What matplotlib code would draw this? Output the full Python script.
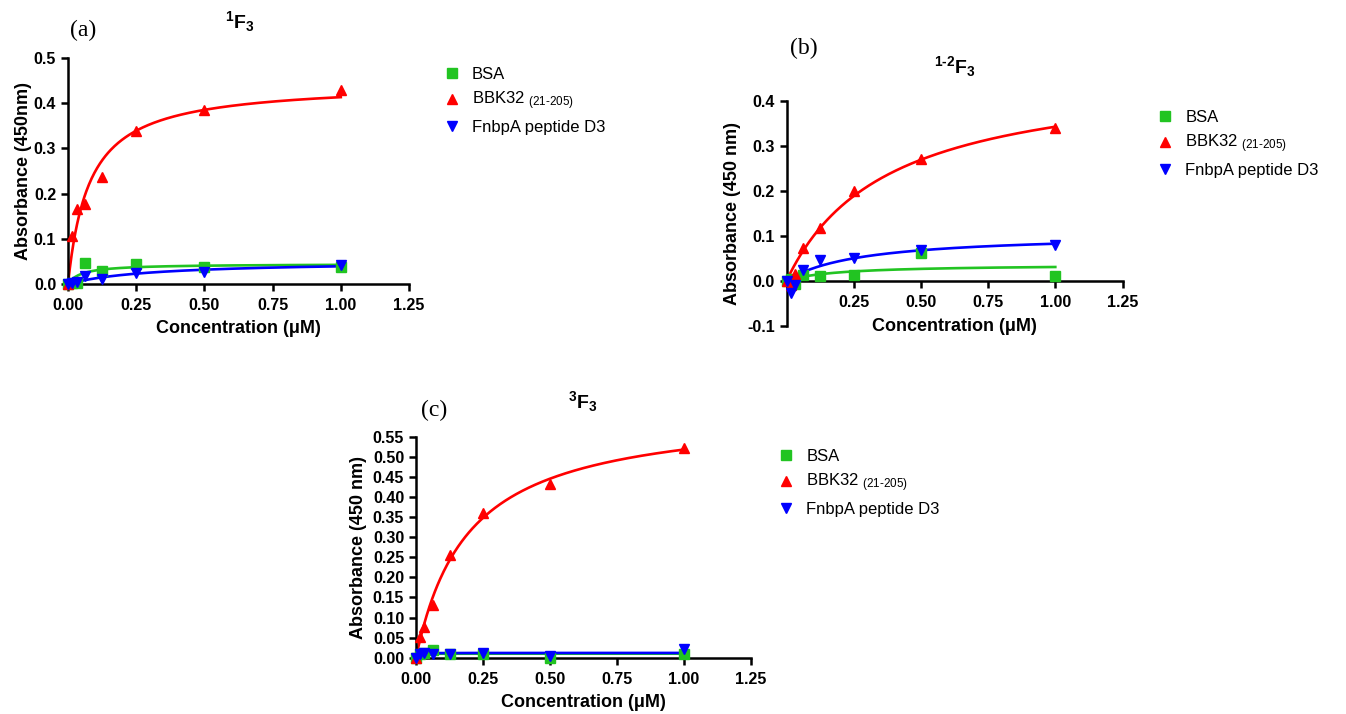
import matplotlib
matplotlib.use('Agg')
import matplotlib.pyplot as plt
from matplotlib.lines import Line2D
import numpy as np

plt.rcParams['font.family'] = ['Liberation Sans', 'DejaVu Sans']
plt.rcParams['mathtext.fontset'] = 'custom'
plt.rcParams['mathtext.rm'] = 'Liberation Sans'
plt.rcParams['mathtext.bf'] = 'Liberation Sans:bold'
plt.rcParams['mathtext.it'] = 'Liberation Sans:italic'

# concentrations (uM)
conc = [0, 0.0156, 0.03125, 0.0625, 0.125, 0.25, 0.5, 1.0]

# panel (a) 1F3
a_bsa = [0.0, 0.003, 0.002, 0.047, 0.028, 0.044, 0.037, 0.038]
a_bbk = [0.0, 0.106, 0.166, 0.178, 0.237, 0.338, 0.386, 0.429]
a_fnb = [0.0, 0.002, 0.004, 0.017, 0.011, 0.024, 0.027, 0.042]

# panel (b) 1-2F3
b_bsa = [0.0, 0.004, -0.007, 0.012, 0.010, 0.012, 0.061, 0.010]
b_bbk = [0.0, -0.010, 0.015, 0.072, 0.117, 0.200, 0.270, 0.339]
b_fnb = [0.0, -0.028, -0.010, 0.025, 0.046, 0.051, 0.068, 0.080]

# panel (c) 3F3
c_bsa = [0.0, 0.010, 0.012, 0.019, 0.009, 0.009, 0.0, 0.010]
c_bbk = [0.0, 0.052, 0.077, 0.131, 0.256, 0.361, 0.432, 0.521]
c_fnb = [0.0, 0.010, 0.012, 0.010, 0.010, 0.011, 0.005, 0.021]

series_names = ['BSA', 'BBK32 $_{\\mathregular{(21\u2010205)}}$', 'FnbpA peptide D3']
colors = ['#22c422', '#ff0000', '#0000ff']
markers = ['s', '^', 'v']


def fit_binding(x, y):
    # one-site binding fit y = Bmax*x/(Kd+x), simple grid search on Kd
    x = np.asarray(x, float)
    y = np.asarray(y, float)
    best = None
    for kd in np.logspace(-3, 1, 3000):
        f = x / (kd + x)
        bmax = np.sum(f * y) / np.sum(f * f)
        sse = np.sum((y - bmax * f) ** 2)
        if best is None or sse < best[0]:
            best = (sse, kd, bmax)
    return best[1], best[2]


fig = plt.figure(figsize=(13.46, 7.14), dpi=100)
W, H = 1346.0, 714.0


def make_axes(left, right, top, bottom):
    return fig.add_axes([left / W, 1 - bottom / H, (right - left) / W, (bottom - top) / H])


def draw_panel(ax, data, ymin, ymax, ystep, yfmt):
    xs = np.linspace(0, 1.0, 300)
    for (vals, c, m) in zip(data, colors, markers):
        kd, bmax = fit_binding(conc, vals)
        ax.plot(xs, bmax * xs / (kd + xs), color=c, lw=1.9, zorder=2, clip_on=False)
        ax.plot(conc, vals, linestyle='none', marker=m, color=c, markersize=6.8,
                zorder=3, clip_on=False)
    ax.set_xlim(0, 1.25)
    ax.set_ylim(ymin, ymax)
    ax.set_xticks([0, 0.25, 0.5, 0.75, 1.0, 1.25])
    ax.set_xticklabels(['0.00', '0.25', '0.50', '0.75', '1.00', '1.25'])
    yt = np.round(np.arange(ymin, ymax + ystep / 2, ystep), 3)
    ax.set_yticks(yt)
    ax.set_yticklabels([yfmt.format(v) for v in yt])
    for s in ['top', 'right']:
        ax.spines[s].set_visible(False)
    for s in ['left', 'bottom']:
        ax.spines[s].set_linewidth(1.8)
    ax.tick_params(direction='out', length=5, width=1.8, labelsize=11.5)
    ax.tick_params(axis='x', pad=5)
    for lab in ax.get_xticklabels() + ax.get_yticklabels():
        lab.set_fontweight('bold')
    ax.set_xlabel('Concentration (\u03bcM)', fontsize=13, fontweight='bold', labelpad=5)


def add_legend(ax, x, y):
    handles = [Line2D([], [], linestyle='none', marker=m, color=c, markersize=6.5)
               for c, m in zip(colors, markers)]
    ax.legend(handles, series_names, loc='center left', bbox_to_anchor=(x / W, 1 - y / H),
              bbox_transform=fig.transFigure, frameon=False, fontsize=12,
              handlelength=1.0, handletextpad=0.7, borderpad=0, borderaxespad=0,
              labelspacing=0.45)


# (a)
ax_a = make_axes(68, 409, 58, 284)
draw_panel(ax_a, [a_bsa, a_bbk, a_fnb], 0.0, 0.5, 0.1, '{:.1f}')
ax_a.set_ylabel('Absorbance (450nm)', fontsize=13, fontweight='bold', labelpad=1)
add_legend(ax_a, 443.5, 101)
fig.text(83 / W, 1 - 30 / H, '(a)', family='Liberation Serif', fontsize=17, ha='center', va='center')
fig.text(240 / W, 1 - 22 / H, r'$^{\mathbf{1}}\mathbf{F}_{\mathbf{3}}$', fontsize=14, ha='center', va='center')

# (b)
ax_b = make_axes(786.5, 1122.5, 101, 325.7)
draw_panel(ax_b, [b_bsa, b_bbk, b_fnb], -0.1, 0.4, 0.1, '{:.1f}')
ax_b.spines['bottom'].set_position(('data', 0))
ax_b.set_xticklabels(['', '0.25', '0.50', '0.75', '1.00', '1.25'])
for lab in ax_b.get_xticklabels():
    lab.set_fontweight('bold')
ax_b.xaxis.set_label_coords(0.5, 0.035)
ax_b.set_ylabel('Absorbance (450 nm)', fontsize=13, fontweight='bold')
add_legend(ax_b, 1157, 144)
fig.text(804 / W, 1 - 48 / H, '(b)', family='Liberation Serif', fontsize=17, ha='center', va='center')
fig.text(955 / W, 1 - 67 / H, '$^{\\mathbf{1\u20102}}\\mathbf{F}_{\\mathbf{3}}$', fontsize=14, ha='center', va='center')

# (c)
ax_c = make_axes(416, 751, 436.7, 657.7)
draw_panel(ax_c, [c_bsa, c_bbk, c_fnb], 0.0, 0.55, 0.05, '{:.2f}')
ax_c.set_ylabel('Absorbance (450 nm)', fontsize=13, fontweight='bold')
add_legend(ax_c, 778, 483)
fig.text(434 / W, 1 - 410 / H, '(c)', family='Liberation Serif', fontsize=17, ha='center', va='center')
fig.text(583 / W, 1 - 402 / H, r'$^{\mathbf{3}}\mathbf{F}_{\mathbf{3}}$', fontsize=14, ha='center', va='center')

fig.savefig('out.png', dpi=100)
